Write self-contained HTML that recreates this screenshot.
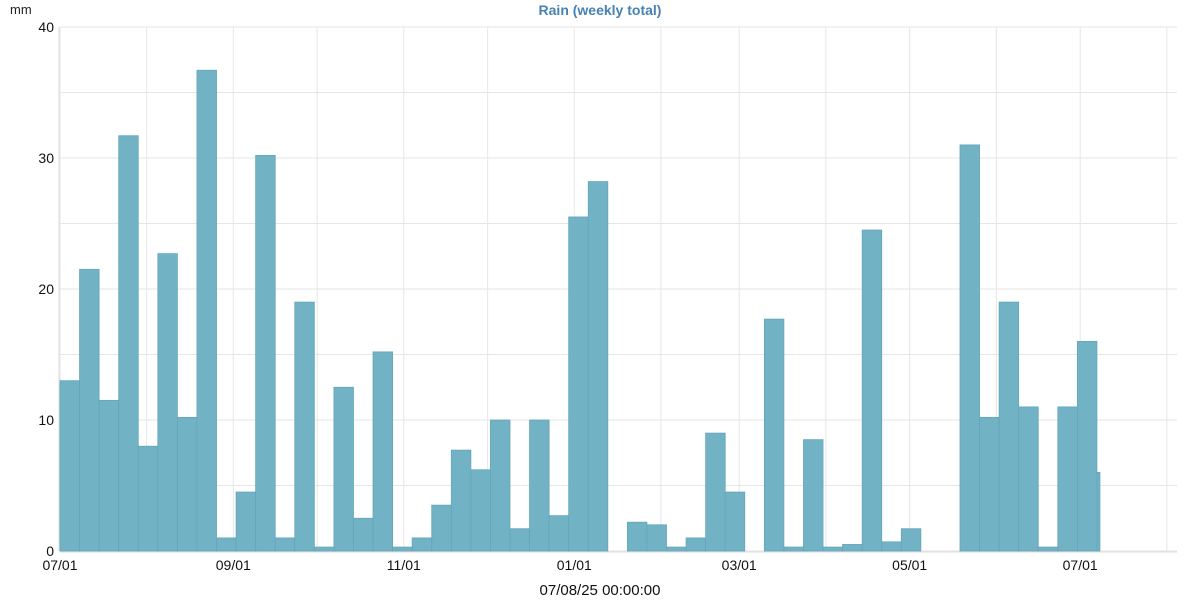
<!DOCTYPE html>
<html><head><meta charset="utf-8"><style>
body{margin:0;background:#fff;font-family:"Liberation Sans",sans-serif}
svg text{font-family:"Liberation Sans",sans-serif}
</style></head><body>
<svg id="c" width="1200" height="600">
<text x="600" y="15" text-anchor="middle" font-size="14" font-weight="bold" fill="#4682b4">Rain (weekly total)</text>
<text x="10" y="14" font-size="13" fill="#222">mm</text>
<text x="600" y="595" text-anchor="middle" font-size="15" fill="#111">07/08/25 00:00:00</text>
<g id="grid"></g><g id="bars"></g><g id="axes"></g>
</svg>
<script>
const values=[13,21.5,11.5,31.7,8,22.7,10.2,36.7,1,4.5,30.2,1,19,0.3,12.5,2.5,15.2,0.3,1,3.5,7.7,6.2,10,1.7,10,2.7,25.5,28.2,0,2.2,2,0.3,1,9,4.5,0,17.7,0.3,8.5,0.3,0.5,24.5,0.7,1.7,0,0,31,10.2,19,11,0.3,11,16,6];
const yTicks=[0,10,20,30,40];
const xLabels=["07/01","09/01","11/01","01/01","03/01","05/01","07/01"];
const monthDays=[0,31,62,92,123,153,184,215,243,274,304,335,365,396];
const NS="http://www.w3.org/2000/svg";
const x0=60,x1=1177,y0=551,y1=27,pxDay=2.795;
const X=d=>x0+d*pxDay, Y=v=>y0-(v/40)*(y0-y1);
function mk(t,a,p){const e=document.createElementNS(NS,t);for(const k in a)e.setAttribute(k,a[k]);p.appendChild(e);return e;}
const grid=document.getElementById('grid'),bars=document.getElementById('bars'),axes=document.getElementById('axes');
for(let v=0;v<=40;v+=5){const l=mk('line',{x1:x0,x2:x1,y1:Y(v),y2:Y(v),stroke:'#e6e6e6'},grid);

}
monthDays.forEach(d=>{const l=mk('line',{x1:X(d),x2:X(d),y1:y1,y2:y0,stroke:'#e6e6e6'},grid);

});
values.forEach((v,i)=>{const s=X(i*7),e=Math.min(X(i*7+7),i==values.length-1?s+3:1e9);
const r=mk('rect',{x:s,y:Y(v),width:e-s,height:y0-Y(v),fill:'#72b2c5',stroke:'#64a5b9','stroke-width':0.8},bars);

});
const ax=mk('line',{x1:x0-1,x2:x0-1,y1:y1,y2:y0,stroke:'#ddd'},axes);


const bx=mk('line',{x1:x0,x2:x1,y1:y0+1,y2:y0+1,stroke:'#ddd'},axes);


yTicks.forEach(v=>{const t=mk('text',{x:54,y:Y(v)+5,'text-anchor':'end','font-size':14,fill:'#111'},axes);t.textContent=v;

});
xLabels.forEach((s,i)=>{const t=mk('text',{x:X(monthDays[i*2]),y:570,'text-anchor':'middle','font-size':14,fill:'#111'},axes);t.textContent=s;

});
</script>
</body></html>
